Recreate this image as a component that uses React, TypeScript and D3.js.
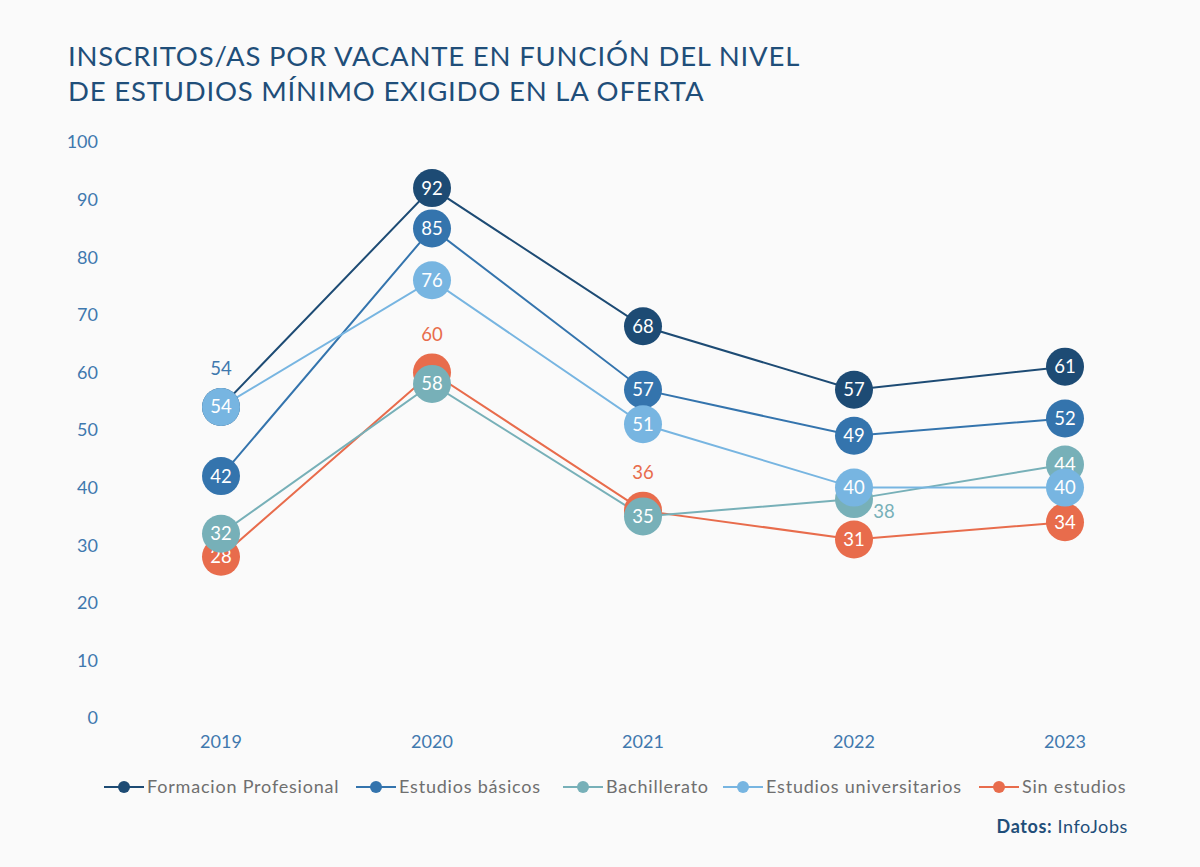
import React from "react";
import * as d3 from "d3";

const years = ["2019", "2020", "2021", "2022", "2023"];
const seriesNames = [
  "Formacion Profesional",
  "Estudios básicos",
  "Bachillerato",
  "Estudios universitarios",
  "Sin estudios",
];
const formacionProfesional = [54, 92, 68, 57, 61];
const estudiosBasicos = [42, 85, 57, 49, 52];
const bachillerato = [32, 58, 35, 38, 44];
const estudiosUniversitarios = [54, 76, 51, 40, 40];
const sinEstudios = [28, 60, 36, 31, 34];
const seriesColors = ["#1d4b74", "#3474ad", "#77b0b8", "#77b5e1", "#e86c4c"];
const yTicks = [0, 10, 20, 30, 40, 50, 60, 70, 80, 90, 100];
// hidden points whose value is written outside the marker: [series, year index, placement]
const outsideLabels: [number, number, string][] = [
  [0, 0, "above"],
  [4, 1, "above"],
  [4, 2, "above"],
  [2, 3, "belowRight"],
];

const allSeries = [
  formacionProfesional,
  estudiosBasicos,
  bachillerato,
  estudiosUniversitarios,
  sinEstudios,
];
// draw order (bottom to top)
const drawOrder = [4, 2, 0, 1, 3];

const FONT = "Lato, 'Open Sans', sans-serif";

export default function App() {
  const W = 1200;
  const H = 867;
  const x = d3.scalePoint<string>().domain(years).range([221, 1065]);
  const y = d3.scaleLinear().domain([0, 100]).range([718, 142]);
  const line = d3
    .line<number>()
    .x((_, i) => x(years[i]) as number)
    .y((d) => y(d));
  const r = 19;

  const legendX = [104, 356, 563, 723, 979];
  const isOutside = (si: number, i: number) =>
    outsideLabels.some(([s, k]) => s === si && k === i);

  return (
    <svg
      width={W}
      height={H}
      style={{ position: "absolute", left: 0, top: 0, background: "#fafafa" }}
      fontFamily={FONT}
    >
      <rect x={0} y={0} width={W} height={H} fill="#fafafa" />
      <text x={68} y={66} fontSize={27.5} letterSpacing={0.8} fill="#1f4e79" fontFamily={FONT}>
        INSCRITOS/AS POR VACANTE EN FUNCIÓN DEL NIVEL
      </text>
      <text x={68} y={101} fontSize={27.5} letterSpacing={0.8} fill="#1f4e79" fontFamily={FONT}>
        DE ESTUDIOS MÍNIMO EXIGIDO EN LA OFERTA
      </text>

      {yTicks.map((t) => (
        <text
          key={t}
          x={98}
          y={y(t)}
          dy="0.35em"
          textAnchor="end"
          fontSize={18}
          fill="#3f78ae"
        >
          {t}
        </text>
      ))}
      {years.map((yr) => (
        <text
          key={yr}
          x={x(yr)}
          y={742}
          dy="0.35em"
          textAnchor="middle"
          fontSize={18}
          fill="#3f78ae"
        >
          {yr}
        </text>
      ))}

      {drawOrder.map((si) => (
        <path
          key={"l" + si}
          d={line(allSeries[si]) || ""}
          fill="none"
          stroke={seriesColors[si]}
          strokeWidth={2}
        />
      ))}
      {drawOrder.map((si) => (
        <g key={"p" + si}>
          {allSeries[si].map((v, i) => (
            <g key={i}>
              <circle
                cx={x(years[i])}
                cy={y(v)}
                r={r}
                fill={seriesColors[si]}
              />
              {!isOutside(si, i) && (
                <text
                  x={x(years[i])}
                  y={y(v)}
                  dy="0.35em"
                  textAnchor="middle"
                  fontSize={18.5}
                  fill="#ffffff"
                >
                  {v}
                </text>
              )}
            </g>
          ))}
        </g>
      ))}

      {outsideLabels.map(([si, i, pos]) => {
        const v = allSeries[si][i];
        const cx = x(years[i]) as number;
        const cy = y(v);
        const color = si === 0 ? "#3f78ae" : seriesColors[si];
        return pos === "above" ? (
          <text
            key={si + "-" + i}
            x={cx}
            y={cy - 38}
            dy="0.35em"
            textAnchor="middle"
            fontSize={18.5}
            fill={color}
          >
            {v}
          </text>
        ) : (
          <text
            key={si + "-" + i}
            x={cx + 30}
            y={cy + 12}
            dy="0.35em"
            textAnchor="middle"
            fontSize={18.5}
            fill={color}
          >
            {v}
          </text>
        );
      })}

      {seriesNames.map((n, i) => (
        <g key={n} transform={`translate(${legendX[i]},787)`}>
          <line x1={0} x2={40} y1={0} y2={0} stroke={seriesColors[i]} strokeWidth={2} />
          <circle cx={20} cy={0} r={6} fill={seriesColors[i]} />
          <text x={43} y={0} dy="0.35em" fontSize={18} letterSpacing={0.8} fill="#6f6f6f">
            {n}
          </text>
        </g>
      ))}

      <text x={1128} y={827} dy="0.35em" textAnchor="end" fontSize={18} letterSpacing={0.6} fill="#1f4e79">
        <tspan fontWeight="bold">Datos:</tspan>
        <tspan> InfoJobs</tspan>
      </text>
    </svg>
  );
}
